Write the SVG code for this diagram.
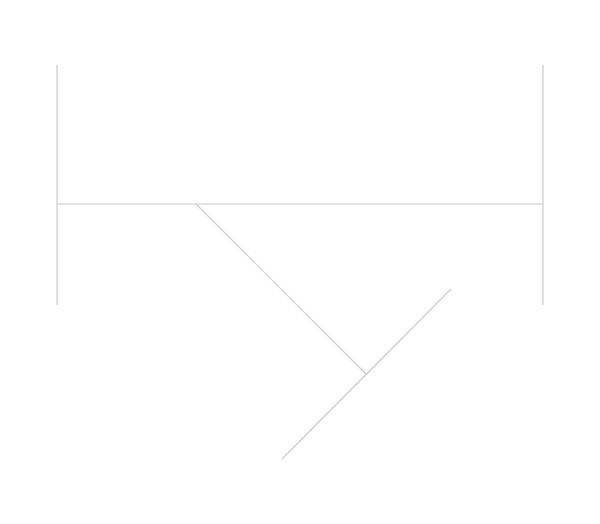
<svg xmlns="http://www.w3.org/2000/svg" width="600" height="524" viewBox="0 0 600 524">
<style>.l{stroke:#cccccc;stroke-width:1.2;fill:none}</style>
<rect width="600" height="524" fill="#ffffff"/>
<g id="connectors">
<line class="l" x1="57" y1="65" x2="57" y2="305"/>
<line class="l" x1="543" y1="65" x2="543" y2="305"/>
<line class="l" x1="57" y1="204" x2="543" y2="204"/>
<line class="l" x1="196" y1="204" x2="366" y2="374"/>
<line class="l" x1="451" y1="289" x2="282" y2="459"/>
</g>
</svg>
